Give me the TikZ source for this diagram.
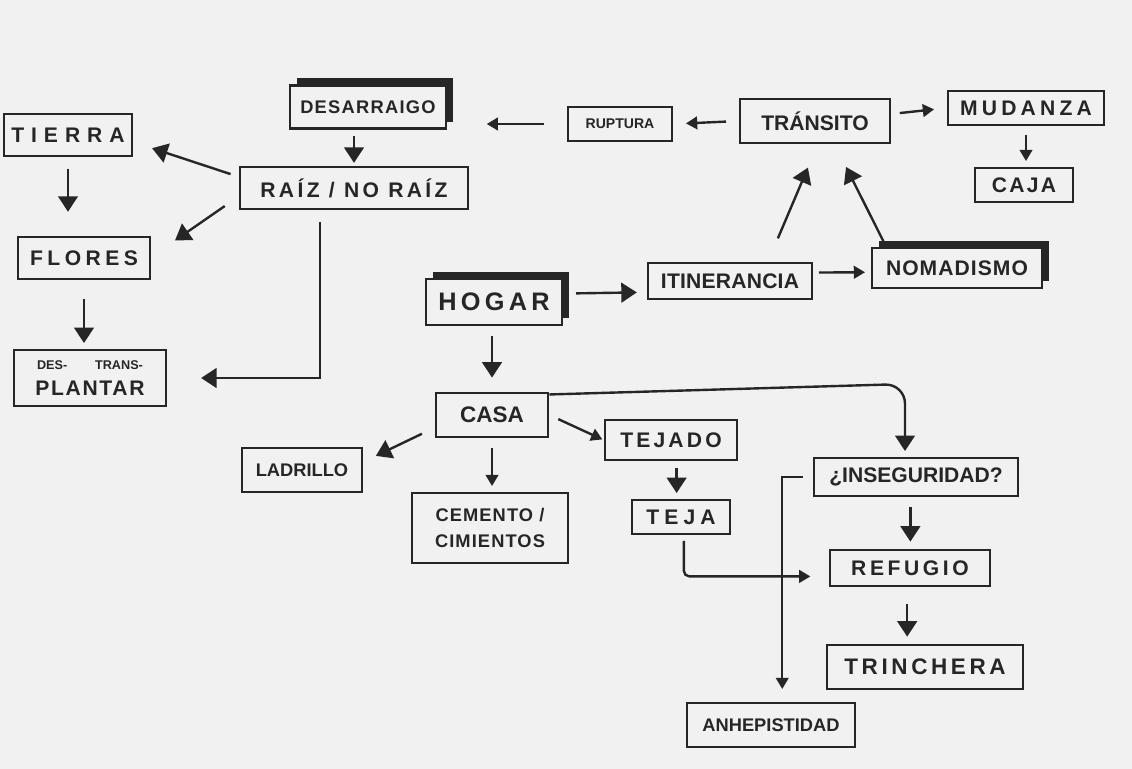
\documentclass[tikz,border=0pt]{standalone}
\usepackage{fontspec}
\setmainfont{Liberation Sans}
\usetikzlibrary{arrows.meta,shadows}
\newcommand\hand[2]{\fontsize{#1}{18}\selectfont\bfseries\addfontfeatures{LetterSpace=#2}}

\begin{document}
\begin{tikzpicture}[x=0.025cm,y=-0.025cm]
	\fill[gray!11] (0,0) rectangle (1132,769);
	\begin{scope}[every node/.style={draw=black!85,line width=1.9pt,fill=gray!11,inner sep=2pt,
	              text=black!85,align=center,font=\hand{15}{0}},
	              heavy/.style={drop shadow={shadow xshift=5pt,shadow yshift=5pt,fill=black!85,opacity=1}}]
	    \node[heavy,minimum width=3.9cm,minimum height=1.08cm,font=\hand{13}{7}] (desarraigo) at (368,107) {DESARRAIGO};
	    \node[minimum width=3.2cm,minimum height=1.05cm,font=\hand{15}{33}] (tierra) at (68,135) {TIERRA};
	    \node[minimum width=5.7cm,minimum height=1.05cm,font=\hand{15}{16}] (raiz) at (354,188) {RAÍZ / NO RAÍZ};
	    \node[minimum width=3.3cm,minimum height=1.05cm,font=\hand{15}{21}] (flores) at (84,258) {FLORES};
	    \node[minimum width=3.8cm,minimum height=1.4cm,font=\hand{15}{8}] (plantar) at (90,378)
	        {{\hand{9}{0}DES-\hspace{2.2em}TRANS-}\\PLANTAR};
	    \node[minimum width=2.6cm,minimum height=0.85cm,font=\hand{10}{0}] (ruptura) at (620,124) {RUPTURA};
	    \node[minimum width=3.75cm,minimum height=1.1cm] (transito) at (815,121) {TRÁNSITO};
	    \node[minimum width=3.9cm,minimum height=0.85cm,font=\hand{15}{20}] (mudanza) at (1026,108) {MUDANZA};
	    \node[minimum width=2.45cm,minimum height=0.85cm,font=\hand{15}{11}] (caja) at (1024,185) {CAJA};
	    \node[minimum width=4.1cm,minimum height=0.9cm,font=\hand{15}{1}] (itinerancia) at (730,281) {ITINERANCIA};
	    \node[heavy,minimum width=4.25cm,minimum height=1.0cm,font=\hand{15}{5}] (nomadismo) at (957,268) {NOMADISMO};
	    \node[heavy,minimum width=3.4cm,minimum height=1.15cm,font=\hand{18}{17}] (hogar) at (494,302) {HOGAR};
	    \node[minimum width=2.8cm,minimum height=1.1cm,font=\hand{16}{0}] (casa) at (492,415) {CASA};
	    \node[minimum width=3.0cm,minimum height=1.1cm,font=\hand{13}{0}] (ladrillo) at (302,470) {LADRILLO};
	    \node[minimum width=3.9cm,minimum height=1.75cm,font=\hand{13}{6}] (cemento) at (490,528) {CEMENTO /\\CIMIENTOS};
	    \node[minimum width=3.3cm,minimum height=1.0cm,font=\hand{15}{15}] (tejado) at (671,440) {TEJADO};
	    \node[minimum width=2.45cm,minimum height=0.85cm,font=\hand{15}{24}] (teja) at (681,517) {TEJA};
	    \node[minimum width=5.1cm,minimum height=0.95cm] (inseguridad) at (916,477) {¿INSEGURIDAD?};
	    \node[minimum width=4.0cm,minimum height=0.9cm,font=\hand{15}{17}] (refugio) at (910,568) {REFUGIO};
	    \node[minimum width=4.9cm,minimum height=1.1cm,font=\hand{16}{16}] (trinchera) at (925,667) {TRINCHERA};
	    \node[minimum width=4.2cm,minimum height=1.1cm,font=\hand{13}{0}] (anhepistidad) at (771,725) {ANHEPISTIDAD};
	\end{scope}

	\begin{scope}[>={Triangle[length=11pt,width=14pt]},
	              smalltip/.style={-{Triangle[length=8pt,width=9pt]}},
	              every edge/.style={draw=black!85,line width=1.7pt}]
	    \path (desarraigo.south -| raiz.north) edge[->,shorten <=4pt,shorten >=2pt] (raiz.north);
	    \path ([yshift=8pt]raiz.west) edge[->,shorten <=6pt,shorten >=14pt] ([yshift=-5pt]tierra.east);
	    \path ([yshift=-6pt]raiz.west) edge[->,shorten <=12pt,shorten >=1pt] ([xshift=16pt,yshift=-4pt]flores.north east);
	    \draw[->,draw=black!85,line width=1.7pt,shorten <=8pt,shorten >=24pt] ([xshift=-24pt]raiz.south) |- (plantar.east);
	    \path (tierra.south) edge[->,shorten <=8pt,shorten >=17pt] (tierra.south |- flores.north);
	    \path (flores.south) edge[->,shorten <=13pt,shorten >=4pt] (flores.south |- plantar.north);
	    \path (ruptura.west) edge[smalltip,shorten <=16pt,shorten >=28pt] (desarraigo.east |- ruptura.west);
	    \path (transito.west) edge[smalltip,shorten <=9pt,shorten >=9pt] (ruptura.east);
	    \path ([yshift=5pt]transito.east) edge[smalltip,shorten <=6pt,shorten >=9pt] (mudanza.west);
	    \path (mudanza.south) edge[smalltip,shorten <=6pt,shorten >=4pt] (mudanza.south |- caja.north);
	    \path ([xshift=27pt]itinerancia.north) edge[->,shorten <=18pt,shorten >=18pt] ([xshift=2pt]transito.south);
	    \path ([xshift=11pt]nomadismo.north west) edge[->,shorten <=4pt,shorten >=18pt] ([xshift=14pt]transito.south);
	    \path ([yshift=6pt]hogar.east) edge[->,shorten <=9pt,shorten >=7pt] ([yshift=-8pt]itinerancia.west);
	    \path ([yshift=6pt]itinerancia.east) edge[smalltip,shorten <=4pt,shorten >=4pt] ([yshift=-3pt]nomadismo.west);
	    \path (hogar.south -| casa.north) edge[->,shorten <=7pt,shorten >=10pt] (casa.north);
	    \path ([yshift=-9pt]casa.west) edge[->,shorten <=10pt,shorten >=1pt] ([xshift=8pt,yshift=-7pt]ladrillo.north east);
	    \path (casa.south) edge[smalltip,shorten <=7pt,shorten >=4pt] (casa.south |- cemento.north);
	    \path (casa.east) edge[smalltip,shorten <=7pt,shorten >=1pt] (tejado.west);
	    \path ([xshift=4pt]tejado.south) edge[->,shorten <=5pt,shorten >=4pt] ([xshift=4pt]tejado.south |- teja.north);
	    \coordinate (bend) at (905,384);
	    \draw[->,draw=black!85,line width=1.7pt,rounded corners=14pt,shorten >=4pt] ([yshift=-2pt]casa.north east) -- (bend) -- (bend |- inseguridad.north);
	    \path ([xshift=-4pt]inseguridad.south) edge[->,shorten <=7pt,shorten >=5pt] ([xshift=-4pt]inseguridad.south |- refugio.north);
	    \path ([xshift=-2pt]refugio.south) edge[->,shorten <=12pt,shorten >=5pt] ([xshift=-2pt]refugio.south |- trinchera.north);
	    \draw[smalltip,draw=black!85,line width=1.7pt,rounded corners=4pt,shorten <=4pt,shorten >=13pt] ([xshift=2pt]teja.south) |- ([yshift=-6pt]refugio.west);
	    \draw[smalltip,draw=black!85,line width=1.7pt,shorten <=7pt,shorten >=9pt] (inseguridad.west) -| ([xshift=8pt]anhepistidad.north);
	\end{scope}
\end{tikzpicture}
\end{document}
